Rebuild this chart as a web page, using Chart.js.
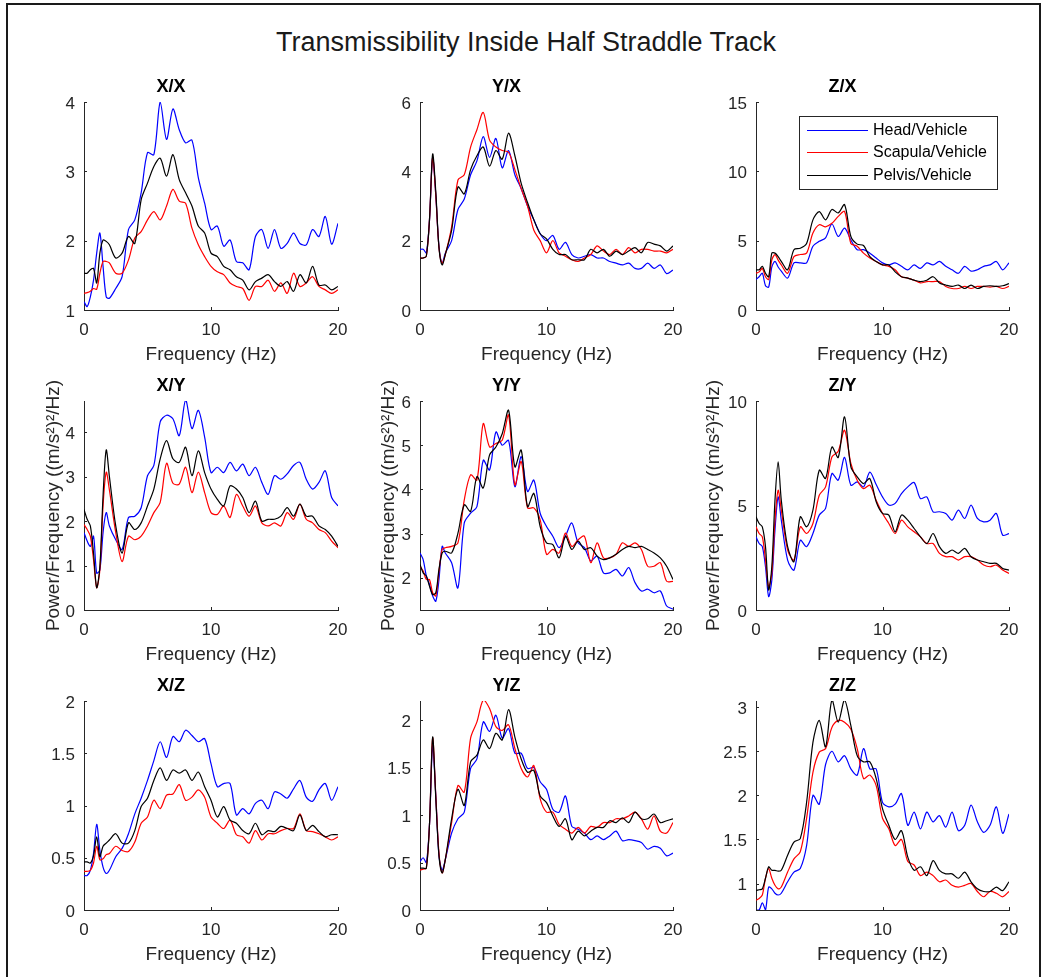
<!DOCTYPE html>
<html>
<head>
<meta charset="utf-8">
<script src="https://cdn.jsdelivr.net/npm/chart.js@4.4.1/dist/chart.umd.min.js"></script>
<style>
html,body{margin:0;padding:0;background:#fff;}
body{width:1052px;height:977px;position:relative;overflow:hidden;font-family:"Liberation Sans",Arial,Helvetica,sans-serif;}
#frame{position:absolute;left:6px;top:3px;width:1035px;height:1000px;border:2px solid #1a1a1a;border-bottom:none;box-sizing:border-box;}
#title{position:absolute;left:0;top:27px;width:1052px;text-align:center;font-size:27px;line-height:30px;color:#1a1a1a;}
canvas{position:absolute;}
</style>
</head>
<body>
<div id="frame"></div>
<div id="title">Transmissibility Inside Half Straddle Track</div>
<script>
// ---------- data ----------
const FREQ = [0,0.25,0.5,0.75,1,1.25,1.5,1.75,2,
  2.5,3,3.5,4,4.5,5,5.5,6,
  6.5,7,7.5,8,8.5,9,9.5,10,
  10.5,11,11.5,12,12.5,13,13.5,14,
  14.5,15,15.5,16,16.5,17,17.5,18,
  18.5,19,19.5,20];
const X_TICKS = [0, 10, 20];
const SERIES_NAMES = ['Head/Vehicle', 'Scapula/Vehicle', 'Pelvis/Vehicle'];

// X/X
const XX_HEAD = [1.12,1.05,1.19,1.43,1.82,2.11,1.63,1.19,1.17, 1.31,1.48,2.16,2.30,2.69,3.27,3.24,4.00, 3.46,3.90,3.60,3.41,3.45,2.91,2.54,2.16, 2.21,1.92,2.01,1.70,1.68,1.58,2.06,2.16, 1.89,2.16,1.89,1.96,2.11,1.96,1.94,2.16, 2.06,2.35,1.95,2.25];
const XX_SCAP = [1.24,1.25,1.27,1.31,1.30,1.53,1.70,1.70,1.68, 1.53,1.53,1.72,2.04,2.13,2.30,2.42,2.30, 2.50,2.74,2.57,2.54,2.18,1.94,1.77,1.63, 1.55,1.51,1.39,1.34,1.31,1.14,1.34,1.34, 1.43,1.27,1.39,1.24,1.53,1.34,1.39,1.48, 1.34,1.29,1.24,1.29];
const XX_PELV = [1.53,1.53,1.58,1.60,1.39,1.82,2.01,1.99,1.94, 1.75,1.82,2.06,1.96,2.59,2.83,3.07,3.19, 2.93,3.24,2.88,2.69,2.50,2.21,2.11,1.82, 1.77,1.63,1.58,1.48,1.43,1.29,1.41,1.46, 1.51,1.41,1.34,1.41,1.27,1.51,1.39,1.63, 1.36,1.36,1.29,1.34];
// Y/X
const YX_HEAD = [1.75,1.75,1.65,2.6,4.4,3.3,1.83,1.35,1.64, 2.0,2.9,3.2,3.9,4.3,5.0,4.4,4.95, 4.1,4.6,3.9,3.5,3.0,2.6,2.2,2.0, 2.15,1.75,1.95,1.6,1.5,1.55,1.6,1.5, 1.5,1.4,1.35,1.3,1.35,1.2,1.2,1.35, 1.2,1.3,1.05,1.15];
const YX_SCAP = [1.5,1.5,1.55,2.6,4.4,3.3,1.8,1.35,1.6, 2.4,3.75,3.9,4.7,5.2,5.7,4.9,4.7, 4.6,4.55,4.05,3.5,3.0,2.3,2.0,1.65, 2.0,1.65,1.55,1.45,1.4,1.5,1.6,1.85, 1.7,1.6,1.75,1.6,1.8,1.65,1.75,1.75, 1.7,1.7,1.65,1.75];
const YX_PELV = [1.5,1.5,1.55,2.6,4.5,3.4,1.8,1.3,1.6, 2.3,3.55,3.35,4.05,4.45,4.7,4.15,4.6, 4.35,5.1,4.45,3.65,3.1,2.6,2.2,2.05, 1.75,1.6,1.6,1.45,1.45,1.45,1.75,1.65, 1.75,1.55,1.7,1.6,1.7,1.8,1.65,1.95, 1.9,1.85,1.7,1.85];
// Z/X
const ZX_HEAD = [2.2,2.4,2.65,1.75,1.65,3.1,3.5,3.1,2.8, 2.3,3.4,3.4,3.4,4.6,4.95,5.2,6.2, 5.3,5.9,5.05,4.35,4.35,4.1,3.75,3.4, 3.25,3.4,3.15,2.9,3.25,3.0,3.4,3.25, 3.5,3.15,2.9,2.65,3.15,2.8,2.9,3.15, 3.25,3.5,2.9,3.4];
const ZX_SCAP = [2.65,2.75,3.0,2.4,2.2,3.6,4.0,3.6,3.25, 2.65,3.85,4.0,4.1,5.55,6.15,6.0,6.25, 6.75,7.1,4.8,4.6,4.1,3.75,3.5,3.25, 3.15,2.9,2.4,2.3,2.15,1.95,2.05,2.05, 2.05,1.7,1.55,1.55,1.7,1.55,1.7,1.7, 1.65,1.7,1.55,1.7];
const ZX_PELV = [2.9,2.9,3.15,2.65,2.4,4.1,4.1,3.85,3.5, 2.9,4.35,4.45,4.8,6.5,7.1,6.5,7.25, 7.0,7.6,5.3,4.75,4.65,3.85,3.5,3.25, 3.25,2.75,2.4,2.3,2.15,2.05,2.15,2.4, 1.95,1.8,1.7,1.8,1.55,1.8,1.55,1.7, 1.75,1.7,1.75,1.9];
// X/Y
const XY_HEAD = [1.74,1.55,1.43,1.66,0.83,0.90,1.74,2.19,1.89, 1.58,1.36,2.08,2.11,2.30,3.02,3.25,4.23, 4.38,4.30,3.92,4.72,4.08,4.49,3.89,3.09, 3.21,3.09,3.32,3.13,3.28,3.02,3.21,2.87, 2.60,3.02,2.94,3.06,3.25,3.32,2.94,2.72, 2.87,3.13,2.53,2.34];
const XY_SCAP = [1.92,1.81,1.66,1.13,0.50,0.90,2.34,3.10,2.70, 1.74,1.09,1.66,1.58,1.66,1.89,2.19,2.42, 3.30,2.85,2.83,3.21,2.64,3.10,2.64,2.19, 2.15,2.34,2.08,2.60,2.34,2.11,2.34,1.96, 1.89,1.96,1.89,2.19,2.04,2.38,2.04,1.96, 1.81,1.74,1.55,1.40];
const XY_PELV = [2.26,2.04,1.89,1.28,0.50,0.98,2.57,3.60,3.00, 1.89,1.28,1.96,1.81,1.96,2.34,2.72,3.40, 3.81,3.40,3.32,3.66,3.02,3.58,3.09,2.72, 2.49,2.34,2.79,2.72,2.53,2.19,2.45,2.00, 2.04,2.04,2.11,2.30,2.11,2.38,2.11,2.11, 1.89,1.81,1.66,1.43];
// Y/Y
const YY_HEAD = [2.56,2.41,2.04,1.85,1.59,1.47,1.96,2.71,2.56, 2.34,1.77,3.24,3.46,3.61,4.66,4.44,5.30, 5.00,5.11,4.06,4.74,3.95,4.21,3.46,3.16, 2.94,2.68,2.94,3.24,2.79,2.68,2.38,2.49, 2.11,2.11,2.19,2.04,2.23,1.89,1.70,1.74, 1.66,1.70,1.36,1.29];
const YY_SCAP = [2.26,2.15,1.96,1.96,1.66,1.59,2.15,2.64,2.68, 2.71,2.79,3.76,4.33,4.21,5.49,4.96,5.04, 5.11,5.68,4.10,4.63,3.58,3.58,3.31,2.53, 2.64,2.56,3.01,2.71,2.86,2.94,2.34,2.79, 2.45,2.45,2.53,2.79,2.71,2.79,2.64,2.26, 2.26,2.34,1.92,1.92];
const YY_PELV = [2.30,2.11,2.04,1.81,1.62,1.66,2.19,2.56,2.60, 2.56,3.01,3.65,3.50,4.29,4.03,4.78,4.96, 5.26,5.79,4.51,4.89,3.61,3.91,3.16,2.79, 2.75,2.45,2.94,2.64,2.83,2.64,2.68,2.49, 2.41,2.45,2.53,2.64,2.71,2.68,2.71,2.64, 2.56,2.45,2.26,1.96];
// Z/Y
const ZY_HEAD = [3.50,3.18,3.03,2.07,0.64,1.43,3.82,5.41,4.30, 2.39,1.91,3.34,3.03,3.66,4.54,4.86,6.53, 6.21,7.30,5.97,6.13,5.89,6.60,6.00,5.41, 5.02,5.10,5.57,5.89,6.10,5.33,5.41,4.70, 4.70,4.62,4.30,4.78,4.38,5.02,4.38,4.22, 4.30,4.62,3.58,3.66];
const ZY_SCAP = [3.98,3.66,3.50,2.39,1.11,1.75,4.30,5.73,4.78, 2.87,2.39,3.98,3.66,4.14,5.49,5.89,7.32, 7.60,8.60,7.01,6.21,5.81,5.97,5.25,4.62, 4.14,3.66,4.30,3.98,3.74,3.50,3.18,3.18, 2.71,2.55,2.55,2.39,2.55,2.55,2.39,2.15, 2.07,2.15,1.91,1.75];
const ZY_PELV = [4.46,4.14,3.98,3.03,0.96,2.07,5.25,7.09,5.25, 3.03,2.31,4.46,3.98,4.78,6.69,6.29,7.80, 7.30,9.24,6.85,6.37,6.05,6.29,5.18,4.62, 4.54,3.74,4.54,4.30,3.90,3.50,3.18,3.66, 3.03,2.71,2.87,2.71,2.95,2.55,2.39,2.31, 2.23,2.23,1.99,1.91];
// X/Z
const XZ_HEAD = [0.33,0.33,0.38,0.54,0.82,0.57,0.41,0.35,0.38, 0.51,0.59,0.73,0.92,1.07,1.24,1.43,1.61, 1.46,1.66,1.61,1.72,1.67,1.61,1.64,1.40, 1.18,1.21,1.21,0.91,0.97,0.92,1.02,1.05, 0.97,1.13,1.11,1.07,1.16,1.24,1.08,1.04, 1.15,1.21,1.05,1.18];
const XZ_SCAP = [0.37,0.37,0.38,0.45,0.61,0.48,0.49,0.53,0.54, 0.61,0.57,0.56,0.65,0.83,0.89,1.05,0.97, 1.10,1.11,1.20,1.05,1.08,1.15,1.08,0.89, 0.83,0.78,0.86,0.72,0.70,0.64,0.76,0.67, 0.73,0.73,0.76,0.78,0.78,0.92,0.76,0.75, 0.73,0.70,0.67,0.70];
const XZ_PELV = [0.46,0.46,0.45,0.52,0.70,0.51,0.61,0.64,0.67, 0.73,0.64,0.64,0.76,0.99,1.07,1.24,1.36, 1.24,1.34,1.31,1.34,1.24,1.32,1.18,1.05, 0.89,0.99,0.86,0.83,0.76,0.73,0.83,0.72, 0.76,0.75,0.80,0.78,0.76,0.91,0.76,0.81, 0.75,0.70,0.72,0.72];
// Y/Z
const YZ_HEAD = [0.51,0.55,0.50,0.90,1.73,1.20,0.57,0.42,0.53, 0.81,0.96,1.03,1.49,1.59,1.98,1.88,2.05, 1.81,1.91,1.65,1.65,1.49,1.50,1.35,1.27, 1.06,1.03,1.20,0.88,0.85,0.81,0.74,0.78, 0.74,0.78,0.83,0.73,0.74,0.73,0.71,0.64, 0.67,0.65,0.57,0.60];
const YZ_SCAP = [0.42,0.43,0.44,0.90,1.81,1.20,0.60,0.39,0.53, 0.92,1.31,1.24,1.81,1.98,2.21,2.12,1.93, 1.89,1.95,1.70,1.49,1.40,1.52,1.17,1.03, 1.03,0.90,0.85,0.81,0.87,0.81,0.88,0.87, 0.92,0.92,0.96,0.96,0.99,1.03,0.96,0.85, 0.99,0.83,0.81,0.92];
const YZ_PELV = [0.44,0.44,0.44,0.90,1.82,1.17,0.57,0.39,0.53, 0.96,1.27,1.10,1.56,1.63,1.79,1.70,1.86, 1.79,2.11,1.82,1.59,1.45,1.47,1.20,1.13, 0.99,0.88,0.96,0.74,0.83,0.78,0.83,0.87, 0.87,0.94,0.92,0.97,0.92,1.03,0.96,0.96, 1.01,0.92,0.94,0.96];
// Z/Z
const ZZ_HEAD = [0.70,0.70,0.78,0.70,0.96,0.94,0.89,0.87,0.89, 1.02,1.13,1.17,1.43,2.00,1.90,2.35,2.50, 2.38,2.45,2.30,2.23,2.53,2.30,2.30,1.92, 1.87,1.90,2.02,1.66,1.81,1.62,1.81,1.70, 1.77,1.64,1.81,1.60,1.66,1.89,1.70,1.58, 1.66,1.87,1.57,1.79];
const ZZ_SCAP = [0.81,0.83,0.87,1.06,1.17,1.06,0.98,0.94,0.96, 1.13,1.28,1.36,1.74,2.26,2.49,2.53,2.77, 2.85,2.83,2.75,2.53,2.19,2.23,2.11,1.74, 1.62,1.43,1.50,1.25,1.21,1.09,1.13,1.09, 1.02,1.04,0.98,0.96,0.98,1.00,0.91,0.85, 0.91,0.89,0.85,0.91];
const ZZ_PELV = [0.92,0.93,0.94,1.06,1.19,1.15,1.15,1.14,1.15, 1.32,1.47,1.51,1.92,2.60,2.85,2.55,3.08, 2.83,3.08,2.79,2.45,2.38,2.38,2.19,1.85, 1.66,1.50,1.60,1.30,1.15,1.19,1.09,1.26, 1.15,1.11,1.11,1.06,1.13,1.02,0.94,0.91, 0.91,0.96,0.92,1.02];

// y tick labels
const YT_XX = [1, 2, 3, 4];
const YT_YX = [0, 2, 4, 6];
const YT_ZX = [0, 5, 10, 15];
const YT_XY = [0, 1, 2, 3, 4];
const YT_YY = [2, 3, 4, 5, 6];
const YT_ZY = [0, 5, 10];
const YT_XZ = [0, 0.5, 1, 1.5, 2];
const YT_YZ = [0, 0.5, 1, 1.5, 2];
const YT_ZZ = [1, 1.5, 2, 2.5, 3];

const X_LABEL = 'Frequency (Hz)';
const Y_LABEL = 'Power/Frequency ((m/s\u00B2)\u00B2/Hz)';

// ---------- layout ----------
const PLOT_L = [84, 420, 756];
const PLOT_R = [338, 673, 1009];
const PLOT_T = [102, 401, 701];
const PLOT_B = [310, 610, 910];
const FONT = '"Liberation Sans", Arial, Helvetica, sans-serif';
const INK = '#262626';

const PANELS = [
  {title:'X/X', d:[XX_HEAD,XX_SCAP,XX_PELV], min:1,    max:4,    yt:YT_XX, col:0, row:0},
  {title:'Y/X', d:[YX_HEAD,YX_SCAP,YX_PELV], min:0,    max:6,    yt:YT_YX, col:1, row:0},
  {title:'Z/X', d:[ZX_HEAD,ZX_SCAP,ZX_PELV], min:0,    max:15,   yt:YT_ZX, col:2, row:0, legend:true},
  {title:'X/Y', d:[XY_HEAD,XY_SCAP,XY_PELV], min:0,    max:4.7,  yt:YT_XY, col:0, row:1, ylab:30},
  {title:'Y/Y', d:[YY_HEAD,YY_SCAP,YY_PELV], min:1.27, max:6,    yt:YT_YY, col:1, row:1, ylab:31},
  {title:'Z/Y', d:[ZY_HEAD,ZY_SCAP,ZY_PELV], min:0,    max:10,   yt:YT_ZY, col:2, row:1, ylab:42},
  {title:'X/Z', d:[XZ_HEAD,XZ_SCAP,XZ_PELV], min:0,    max:2,    yt:YT_XZ, col:0, row:2},
  {title:'Y/Z', d:[YZ_HEAD,YZ_SCAP,YZ_PELV], min:0,    max:2.2,  yt:YT_YZ, col:1, row:2},
  {title:'Z/Z', d:[ZZ_HEAD,ZZ_SCAP,ZZ_PELV], min:0.70, max:3.07, yt:YT_ZZ, col:2, row:2}
];
const COLORS = ['#0000ff', '#ff0000', '#000000'];

// ---------- plugins ----------
const inwardTicks = {
  id: 'inwardTicks',
  afterDraw(chart) {
    const {ctx, chartArea: a, scales: {x, y}} = chart;
    ctx.save();
    ctx.strokeStyle = INK; ctx.lineWidth = 1;
    ctx.beginPath();
    x.ticks.forEach(t => { const px = Math.round(x.getPixelForValue(t.value)) + 0.5; ctx.moveTo(px, a.bottom); ctx.lineTo(px, a.bottom - 3); });
    y.ticks.forEach(t => { const py = Math.round(y.getPixelForValue(t.value)) + 0.5; ctx.moveTo(a.left, py); ctx.lineTo(a.left + 3, py); });
    ctx.stroke();
    ctx.restore();
  }
};
const yLabel = {
  id: 'yLabel',
  afterDraw(chart, args, opts) {
    if (!opts.text) return;
    const {ctx, chartArea: a} = chart;
    ctx.save();
    ctx.translate(a.left - opts.offset, (a.top + a.bottom) / 2);
    ctx.rotate(-Math.PI / 2);
    ctx.font = '19px ' + FONT;
    ctx.fillStyle = INK; ctx.textAlign = 'center'; ctx.textBaseline = 'middle';
    ctx.fillText(opts.text, 0, 0);
    ctx.restore();
  }
};
const insideLegend = {
  id: 'insideLegend',
  afterDraw(chart, args, opts) {
    if (!opts.show) return;
    const {ctx, chartArea: a} = chart;
    const ds = chart.data.datasets;
    ctx.save();
    ctx.font = '16px ' + FONT;
    const tw = Math.max(...ds.map(d => ctx.measureText(d.label).width));
    const padL = 8, sample = 61, gap = 5, padR = 10, rowH = 22.5, padV = 2.5;
    const w = Math.round(padL + sample + gap + tw + padR);
    const h = Math.round(rowH * ds.length + padV * 2);
    const x0 = Math.round(a.right - 12 - w), y0 = Math.round(a.top + 14);
    ctx.fillStyle = '#fff'; ctx.fillRect(x0, y0, w, h);
    ctx.strokeStyle = INK; ctx.lineWidth = 1; ctx.strokeRect(x0 + 0.5, y0 + 0.5, w, h);
    ds.forEach((d, i) => {
      const cy = Math.round(y0 + padV + rowH * (i + 0.5)) + 0.5;
      ctx.strokeStyle = d.borderColor; ctx.lineWidth = 1;
      ctx.beginPath(); ctx.moveTo(x0 + padL, cy); ctx.lineTo(x0 + padL + sample, cy); ctx.stroke();
      ctx.fillStyle = '#000'; ctx.textBaseline = 'middle'; ctx.textAlign = 'left';
      ctx.fillText(d.label, x0 + padL + sample + gap, cy);
    });
    ctx.restore();
  }
};

// ---------- build charts ----------
PANELS.forEach(p => {
  const left = PLOT_L[p.col] - 80, top = PLOT_T[p.row] - 30;
  const w = PLOT_R[p.col] - PLOT_L[p.col] + 100, h = PLOT_B[p.row] - PLOT_T[p.row] + 90;
  const c = document.createElement('canvas');
  c.width = w; c.height = h;
  c.style.left = left + 'px'; c.style.top = top + 'px';
  c.style.width = w + 'px'; c.style.height = h + 'px';
  document.body.appendChild(c);
  const datasets = p.d.map((arr, i) => ({
    label: SERIES_NAMES[i],
    data: FREQ.map((f, k) => ({x: f, y: arr[k]})),
    borderColor: COLORS[i],
    backgroundColor: COLORS[i],
    borderWidth: 1.2,
    pointRadius: 0,
    tension: 0.3,
    fill: false,
    order: 3 - i
  }));
  new Chart(c, {
    type: 'line',
    data: {datasets},
    options: {
      responsive: false,
      animation: false,
      devicePixelRatio: 1,
      layout: {padding: {left: 0, right: 20, top: 0, bottom: 0}},
      plugins: {
        legend: {display: false},
        tooltip: {enabled: false},
        title: {display: true, text: p.title, color: '#000',
                font: {family: FONT, size: 18, weight: 'bold', lineHeight: 1.2},
                padding: {top: 4.2, bottom: 4.2}},
        yLabel: {text: p.ylab ? Y_LABEL : '', offset: p.ylab || 0},
        insideLegend: {show: !!p.legend}
      },
      scales: {
        x: {
          type: 'linear', min: 0, max: 20,
          afterBuildTicks: s => { s.ticks = X_TICKS.map(v => ({value: v})); },
          afterFit: s => { s.height = 60; },
          grid: {display: false, drawTicks: false},
          border: {display: true, color: INK, width: 1},
          ticks: {padding: 10.5, color: INK, font: {family: FONT, size: 17}, maxRotation: 0, autoSkip: false,
                  callback: v => String(v)},
          title: {display: true, text: X_LABEL, color: INK, font: {family: FONT, size: 19, lineHeight: 1.2},
                  padding: {top: 0, bottom: 4.2}}
        },
        y: {
          type: 'linear', min: p.min, max: p.max,
          afterBuildTicks: s => { s.ticks = p.yt.map(v => ({value: v})); },
          afterFit: s => { s.width = 80; },
          grid: {display: false, drawTicks: false},
          border: {display: true, color: INK, width: 1},
          ticks: {padding: 9, labelOffset: 2, color: INK, font: {family: FONT, size: 17}, autoSkip: false,
                  callback: v => String(v)}
        }
      }
    },
    plugins: [inwardTicks, yLabel, insideLegend]
  });
});
</script>
</body>
</html>
